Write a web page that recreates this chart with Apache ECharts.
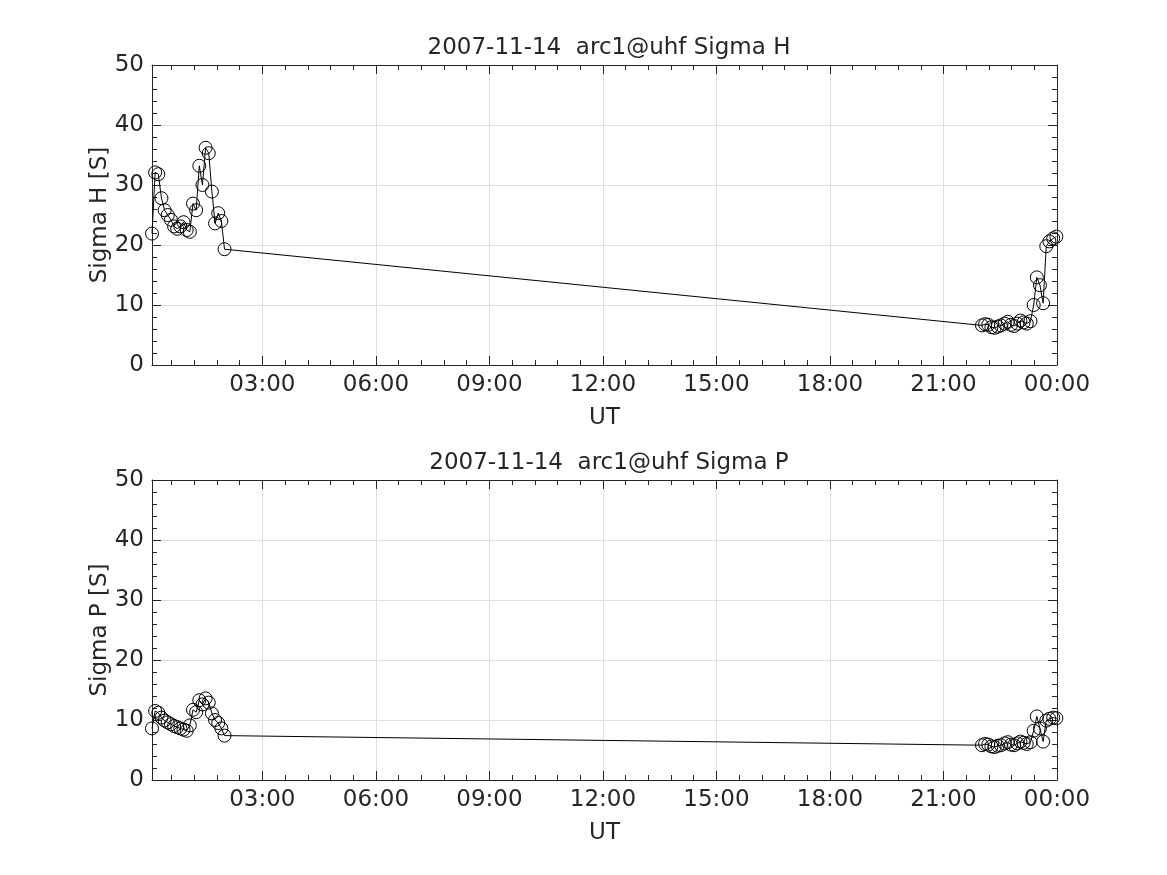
<!DOCTYPE html>
<html>
<head>
<meta charset="utf-8">
<script src="https://cdn.jsdelivr.net/npm/echarts@6/dist/echarts.min.js"></script>
<style>html,body{margin:0;padding:0;background:#fff}#c{width:1167px;height:875px}</style>
</head>
<body>
<div id="c"></div>
<script>
// ---- data ----
const titleH = '2007-11-14  arc1@uhf Sigma H';
const titleP = '2007-11-14  arc1@uhf Sigma P';
const yNameH = 'Sigma H [S]';
const yNameP = 'Sigma P [S]';
const xName = 'UT';
const times = [
 '00:05','00:10','00:15','00:20','00:25','00:30','00:35','00:40','00:45','00:50','00:55','01:00',
 '01:05','01:10','01:15','01:20','01:25','01:30','01:35','01:40','01:45','01:50','01:55','02:00',
 '22:01','22:06','22:11','22:16','22:21','22:26','22:31','22:37','22:42','22:47','22:52','22:57',
 '23:02','23:07','23:12','23:18','23:23','23:28','23:33','23:38','23:43','23:48','23:54','23:59'
];
const sigmaH = [
 21.9, 32.1, 31.8, 27.8, 25.8, 25.0, 24.2, 23.1, 22.7, 23.1, 23.8, 22.5,
 22.2, 26.9, 25.8, 33.2, 30.0, 36.2, 35.3, 28.9, 23.6, 25.3, 24.0, 19.3,
 6.6, 6.8, 6.7, 6.3, 6.2, 6.4, 6.6, 6.9, 7.2, 6.7, 6.5, 6.9,
 7.4, 7.1, 6.9, 7.3, 10.0, 14.6, 13.3, 10.3, 19.8, 20.6, 21.1, 21.4
];
const sigmaP = [
 8.6, 11.5, 11.2, 10.4, 9.9, 9.6, 9.3, 9.0, 8.8, 8.6, 8.4, 8.2,
 9.1, 11.7, 11.3, 13.3, 12.6, 13.6, 12.9, 11.1, 10.0, 9.5, 8.6, 7.4,
 5.8, 6.0, 5.9, 5.6, 5.5, 5.7, 5.8, 6.1, 6.3, 5.9, 5.8, 6.1,
 6.4, 6.2, 6.0, 6.3, 8.2, 10.6, 8.6, 6.4, 9.9, 10.2, 10.4, 10.3
];
const xMajor = [3, 6, 9, 12, 15, 18, 21, 24];
const xMinorStep = 0.6; // 36 minutes
const yMin = 0, yMax = 50, yStep = 10;

// ---- build ----
const toH = s => { const p = s.split(':'); return +p[0] + (+p[1]) / 60; };
const hours = times.map(toH);
const xMin = hours[0], xMax = 24;
const xMinor = [];
for (let k = 1; k * xMinorStep <= xMax + 1e-9; k++) { const v = +(k * xMinorStep).toFixed(4); if (v > xMin) xMinor.push(v); }
const pad = n => (n < 10 ? '0' : '') + n;
const fmtH = v => pad(Math.round(v) % 24) + ':00';

const TXT = '#262626';
const GRIDC = '#dfdfdf';
const FS = 23;
const FONT = 'DejaVu Sans';

const grids = [
  { left: 152, right: 110, top: 65, height: 300 },
  { left: 152, right: 110, top: 480, height: 300 }
];
const xAxes = [], yAxes = [];
[0, 1].forEach(g => {
  xAxes.push({
    type: 'value', gridIndex: g, position: 'bottom', min: xMin, max: xMax,
    name: xName, nameLocation: 'middle', nameGap: 42, nameMoveOverlap: false,
    nameTextStyle: { color: TXT, fontSize: FS, fontFamily: FONT },
    axisLine: { show: true, onZero: false, lineStyle: { color: TXT, width: 1 } },
    axisTick: { show: true, inside: true, length: 9, customValues: xMajor, lineStyle: { color: TXT } },
    axisLabel: { show: true, customValues: xMajor, formatter: fmtH, color: TXT, fontSize: FS, fontFamily: FONT, margin: 9 },
    splitLine: { show: true, lineStyle: { color: GRIDC, width: 1 } }
  });
  xAxes.push({
    type: 'value', gridIndex: g, position: 'bottom', min: xMin, max: xMax,
    axisLine: { show: false, onZero: false },
    axisTick: { show: true, inside: true, length: 5, customValues: xMinor, lineStyle: { color: TXT } },
    axisLabel: { show: false }, splitLine: { show: false }
  });
  xAxes.push({
    type: 'value', gridIndex: g, position: 'top', min: xMin, max: xMax,
    axisLine: { show: true, onZero: false, lineStyle: { color: TXT, width: 1 } },
    axisTick: { show: true, inside: true, length: 9, customValues: xMajor, lineStyle: { color: TXT } },
    axisLabel: { show: false }, splitLine: { show: false }
  });
  xAxes.push({
    type: 'value', gridIndex: g, position: 'top', min: xMin, max: xMax,
    axisLine: { show: false, onZero: false },
    axisTick: { show: true, inside: true, length: 5, customValues: xMinor, lineStyle: { color: TXT } },
    axisLabel: { show: false }, splitLine: { show: false }
  });
  yAxes.push({
    type: 'value', gridIndex: g, position: 'left', min: yMin, max: yMax, interval: yStep,
    name: g === 0 ? yNameH : yNameP, nameLocation: 'middle', nameGap: 40, nameMoveOverlap: false,
    nameTextStyle: { color: TXT, fontSize: FS, fontFamily: FONT },
    axisLine: { show: true, onZero: false, lineStyle: { color: TXT, width: 1 } },
    axisTick: { show: true, inside: true, length: 9, lineStyle: { color: TXT } },
    minorTick: { show: true, splitNumber: 5, length: 5, lineStyle: { color: TXT } },
    axisLabel: { color: TXT, fontSize: FS, fontFamily: FONT, margin: 8 },
    splitLine: { show: true, lineStyle: { color: GRIDC, width: 1 } }
  });
  yAxes.push({
    type: 'value', gridIndex: g, position: 'right', min: yMin, max: yMax, interval: yStep,
    axisLine: { show: true, onZero: false, lineStyle: { color: TXT, width: 1 } },
    axisTick: { show: true, inside: true, length: 9, lineStyle: { color: TXT } },
    minorTick: { show: true, splitNumber: 5, length: 5, lineStyle: { color: TXT } },
    axisLabel: { show: false }, splitLine: { show: false }
  });
});

const mk = (vals, g) => ({
  type: 'line', xAxisIndex: g * 4, yAxisIndex: g * 2,
  data: hours.map((h, i) => [h, vals[i]]),
  symbol: 'circle', symbolSize: 13, showAllSymbol: true,
  lineStyle: { color: '#000', width: 1 },
  itemStyle: { color: 'rgba(0,0,0,0)', borderColor: '#000', borderWidth: 1 },
  emphasis: { disabled: true }, animation: false, clip: false
});

const chart = echarts.init(document.getElementById('c'), null, { renderer: 'canvas' });
chart.setOption({
  backgroundColor: '#fff',
  animation: false,
  textStyle: { fontFamily: FONT },
  title: [
    { text: titleH, left: 604, top: 32, textAlign: 'center', textStyle: { color: TXT, fontSize: FS, fontWeight: 'normal', fontFamily: FONT } },
    { text: titleP, left: 604, top: 447, textAlign: 'center', textStyle: { color: TXT, fontSize: FS, fontWeight: 'normal', fontFamily: FONT } }
  ],
  grid: grids,
  xAxis: xAxes,
  yAxis: yAxes,
  series: [mk(sigmaH, 0), mk(sigmaP, 1)]
});
</script>
</body>
</html>
